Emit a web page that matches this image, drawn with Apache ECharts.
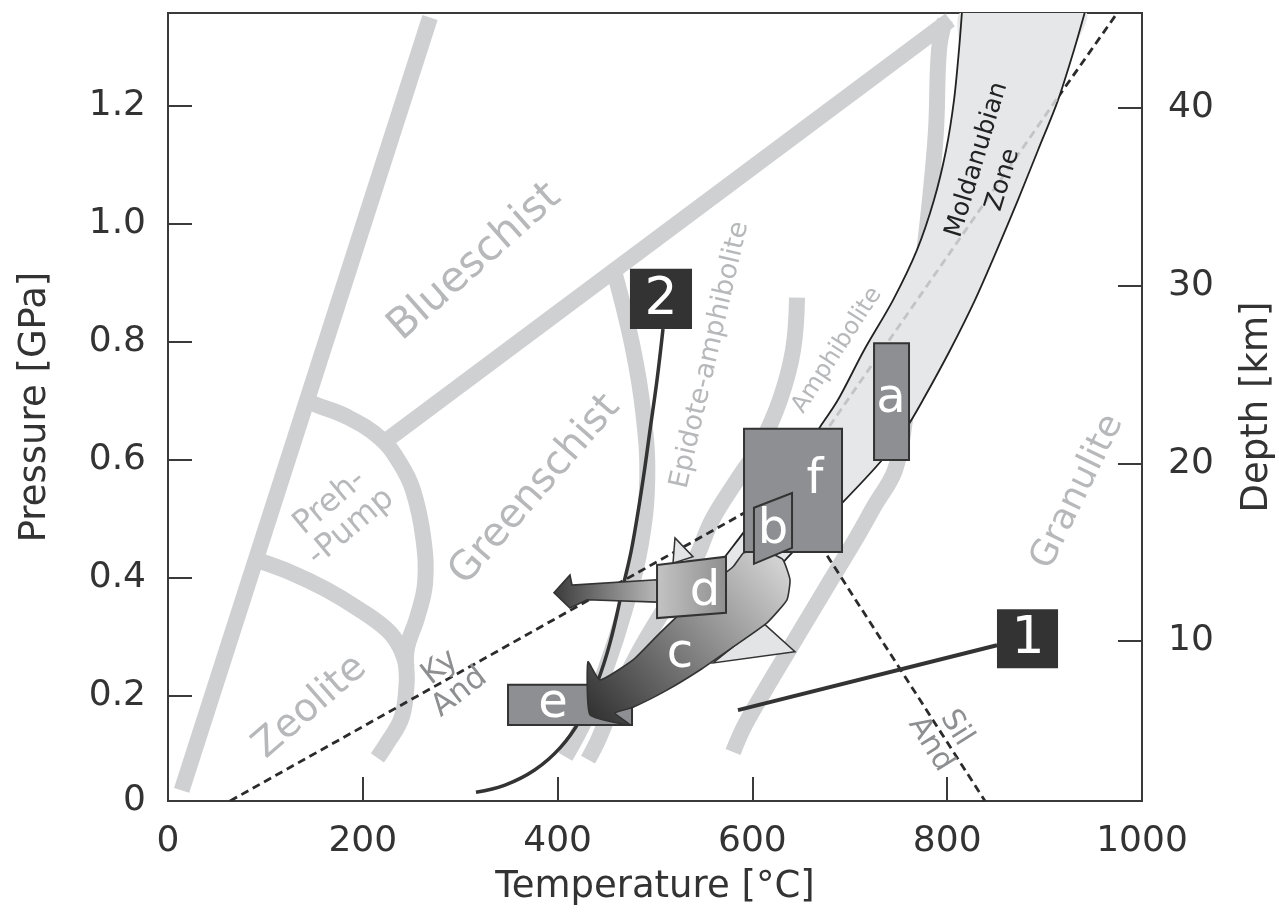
<!DOCTYPE html>
<html><head><meta charset="utf-8">
<script src="https://cdn.jsdelivr.net/npm/echarts@6/dist/echarts.min.js"></script>
<style>html,body{margin:0;padding:0;background:#fff}#c{width:1279px;height:916px}</style>
</head><body><div id="c"></div>
<script>
// ================= DATA (T in °C, P in GPa) =================
const P_MIN = 0.022, P_MAX = 1.3576;      // pressure range of frame
const D_MIN = 1.0, D_MAX = 45.34;         // depth range of frame (km)
const pTicks = [0.2, 0.4, 0.6, 0.8, 1.0, 1.2];
const depthTicks = [10, 20, 30, 40];

// facies boundary bands (light grey thick lines)
const bandZeoliteBlueschist = [[14,0.04],[269,1.35]];
const bandPrehPumpUpper = [[142,0.70],[153,0.693],[184,0.673],[218,0.637],[238,0.595],[251.5,0.549],[262,0.469],[264,0.392],[256,0.334],[245,0.278],[245,0.222],[240,0.164],[225,0.120],[215,0.095]];
const bandPrehPumpLower = [[90,0.431],[128,0.408],[163,0.380],[197,0.346],[225,0.312],[238,0.283],[245,0.249]];
const bandBlueschistGreenschist = [[225,0.634],[803,1.346]];
const bandGreenschistEpidote = [[459,0.914],[477,0.792],[488,0.680],[492,0.566],[485,0.453],[469,0.346],[449,0.244],[428,0.159],[408,0.097]];
const bandEpidoteAmphibolite = [[645.8,0.875],[641.7,0.786],[628.3,0.702],[607.8,0.625],[584.2,0.566],[558.5,0.498],[541.1,0.431],[515.4,0.363],[484.6,0.278],[458.9,0.193],[441.5,0.125],[431.2,0.092]];
const bandAmphiboliteGranulite = [[797.7,1.346],[791.6,1.295],[788.5,1.159],[782.3,1.041],[773.1,0.905],[763.9,0.769],[756.7,0.668],[746.4,0.583],[725.9,0.524],[705.3,0.464],[674.5,0.380],[643.7,0.295],[612.9,0.210],[592.4,0.151],[580.1,0.105]];

// Al2SiO5 reactions (dashed)
const kyAnd = [[63.7,0.022],[633.5,0.549]];
const silAnd = [[633.5,0.549],[838.8,0.022]];
const kySilInZone = [[633.5,0.549],[913.8,1.215]];
const kySilOutside = [[913.8,1.215],[974.3,1.357]];

// Moldanubian Zone band
const zoneLeft = [[815.2,1.36],[812.1,1.295],[807.0,1.210],[798.8,1.125],[786.5,1.041],[769.0,0.956],[744.4,0.871],[714.6,0.786],[687.9,0.702],[669.4,0.656],[638.6,0.583],[607.8,0.515],[590.4,0.476],[571.9,0.436],[546.2,0.380]];
const zoneRight = [[941.5,1.36],[930.2,1.295],[913.8,1.210],[893.2,1.125],[872.7,1.041],[851.1,0.956],[828.5,0.871],[802.9,0.786],[775.2,0.702],[758.7,0.656],[733.1,0.600],[692.0,0.527],[638.6,0.439],[607.8,0.380]];
const triTop = [[520.5,0.468],[539.0,0.436],[518.5,0.425]];
const triBottom = [[610.9,0.324],[643.7,0.275],[559.6,0.256]];

// geotherm / paths
const path1 = [[585.2,0.176],[851.1,0.286]];
const path2 = [[508.2,0.822],[502.1,0.736],[494.9,0.651],[487.7,0.566],[476.4,0.453],[467.1,0.385],[453.8,0.290],[440.5,0.222],[423.0,0.159],[402.5,0.112],[376.8,0.075],[346.0,0.049],[316.2,0.037]];

// P-T boxes [Tmin, Tmax, Pmin, Pmax]
const boxA = [724.9, 760.8, 0.600, 0.798];
const boxF = [591.4, 692.0, 0.444, 0.653];
const boxE = [349.1, 476.4, 0.151, 0.219];
const label1Box = [851.1, 913.8, 0.247, 0.347];
const label2Box = [474.3, 538.0, 0.822, 0.924];
const quadB = [[601.6,0.519],[640.7,0.544],[640.7,0.451],[601.6,0.424]];
const quadD = [[502.1,0.422],[572.9,0.436],[572.9,0.341],[502.1,0.332]];
const arrowD = [[502.1,0.397],[414.8,0.388],[412.7,0.405],[396.3,0.375],[412.7,0.349],[430.2,0.363],[502.1,0.359]];
const arrowC = [[594.5,0.444],[618.1,0.442],[631.4,0.431],[638.6,0.397],[635.5,0.363],[615.0,0.324],[580.1,0.283],[546.2,0.244],[512.3,0.210],[477.4,0.181],[458.9,0.171],[474.3,0.151],[433.3,0.168],[431.2,0.258],[443.5,0.227],[477.4,0.261],[505.1,0.307],[532.9,0.351],[559.6,0.392],[580.1,0.419],[590.4,0.442]];

// text labels: [text, T, P, rotation°, fontSize]
const faciesLabels = [
  ['Blueschist', 315, 0.935, 41.5, 42],
  ['Greenschist', 377, 0.549, 49, 40],
  ['Epidote-amphibolite', 556.5, 0.778, 77, 27],
  ['Amphibolite', 687, 0.786, 57, 24],
  ['Granulite', 934, 0.546, 64, 36],
  ['Preh-\n-Pump', 177, 0.507, 40, 32],
  ['Zeolite', 146, 0.181, 41, 39]
];
const mineralLabels = [
  ['Ky\nAnd', 289.5, 0.227, 38, 31],
  ['Sil\nAnd', 796, 0.132, -58, 30]
];
const zoneLabels = [['Moldanubian', 830.6, 1.109, 73, 25], ['Zone', 857.3, 1.075, 73, 25]];
const boxLetters = [['a',742.3,0.702,0,48],['b',621.2,0.481,0,48],['c',525.7,0.270,0,48],['d',551.3,0.375,0,48],['e',395.3,0.185,0,48],['f',664.3,0.566,0,48],['1',883,0.295,0,52],['2',506.2,0.871,0,52]];

// ================= CHART =================
const FONT = 'DejaVu Sans';
const chart = echarts.init(document.getElementById('c'), null, {renderer:'canvas'});
function shapeSeries(z, build) {
  return {type:'custom', z:z, silent:true, animation:false, clip:true,
    xAxisIndex:0, yAxisIndex:0, data:[[500,0.5]],
    renderItem:(params, api) => build(api)};
}
const C = (api, pts) => pts.map(p => api.coord(p));
function line(pts, style, z, smooth) {
  return shapeSeries(z, api => ({type:'polyline', shape:{points:C(api,pts), smooth:smooth||0},
    style:Object.assign({fill:null}, style)}));
}
function poly(pts, style, z, smooth) {
  return shapeSeries(z, api => ({type:'polygon', shape:{points:C(api,pts), smooth:smooth||0}, style:style}));
}
function rect(b) { return [[b[0],b[2]],[b[1],b[2]],[b[1],b[3]],[b[0],b[3]]]; }
function texts(items, z, color) {
  return shapeSeries(z, api => ({type:'group', children: items.map(it => {
    const p = api.coord([it[1], it[2]]);
    return {type:'text', x:p[0], y:p[1], rotation: it[3]*Math.PI/180,
      style:{text:it[0], fill:color, fontSize:it[4], fontFamily:FONT,
        align:'center', verticalAlign:'middle', lineHeight:it[4]*1.02}};
  })}));
}
const BAND = {stroke:'#cfd0d2', lineWidth:16, lineCap:'butt', lineJoin:'round'};
const DASH = {stroke:'#2b2b2b', lineWidth:2.8, lineDash:[8,5]};
const BOX = {fill:'#8e8f92', stroke:'#333', lineWidth:2};
const LG = echarts.graphic.LinearGradient;

const series = [
  line(bandZeoliteBlueschist, BAND, 1),
  line(bandPrehPumpUpper, BAND, 1, 0.4),
  line(bandPrehPumpLower, BAND, 1, 0.4),
  line(bandBlueschistGreenschist, BAND, 1),
  line(bandGreenschistEpidote, BAND, 1, 0.4),
  line(bandEpidoteAmphibolite, BAND, 1, 0.4),
  line(bandAmphiboliteGranulite, BAND, 1, 0.4),
  line(kyAnd, DASH, 2),
  line(silAnd, DASH, 2),
  line(kySilOutside, DASH, 2),
  poly(zoneLeft.concat(zoneRight.slice().reverse()), {fill:'#e6e7e8'}, 3, 0.3),
  line(zoneLeft, {stroke:'#222', lineWidth:1.8}, 3, 0.3),
  line(zoneRight, {stroke:'#222', lineWidth:1.8}, 3, 0.3),
  line(kySilInZone, {stroke:'#c3c4c6', lineWidth:2.8, lineDash:[8,5]}, 4),
  poly(triTop, {fill:'#e3e4e5', stroke:'#333', lineWidth:1.5}, 4),
  poly(triBottom, {fill:'#e3e4e5', stroke:'#333', lineWidth:1.5}, 4),
  line(path2, {stroke:'#333', lineWidth:3.5}, 5, 0.4),
  line(path1, {stroke:'#333', lineWidth:4}, 5),
  poly(rect(boxE), BOX, 6),
  poly(arrowC, {fill:new LG(0,1,1,0,[{offset:0,color:'#2c2c2c'},{offset:0.55,color:'#8d8d8d'},{offset:1,color:'#dcdcdc'}]), stroke:'#333', lineWidth:1.6}, 7, 0.15),
  poly(arrowD, {fill:new LG(0,0,1,0,[{offset:0,color:'#3a3a3a'},{offset:1,color:'#b9b9b9'}]), stroke:'#333', lineWidth:1.6}, 8),
  poly(quadD, {fill:new LG(0,0,1,0,[{offset:0,color:'#c4c4c4'},{offset:1,color:'#8e8e8e'}]), stroke:'#333', lineWidth:2}, 8),
  poly(rect(boxF), BOX, 9),
  poly(quadB, BOX, 10),
  poly(rect(boxA), BOX, 9),
  poly(rect(label1Box), {fill:'#333'}, 9),
  poly(rect(label2Box), {fill:'#333'}, 9),
  texts(faciesLabels, 11, '#b7b8ba'),
  texts(mineralLabels, 11, '#8e8f91'),
  texts(zoneLabels, 11, '#222'),
  texts(boxLetters, 12, '#ffffff')
];

const AX = {lineStyle:{color:'#3a3a3a', width:2}};
chart.setOption({
  animation:false,
  backgroundColor:'#fff',
  grid:{left:168, right:137, top:13, bottom:115, containLabel:false, outerBoundsMode:'none',
    show:true, borderColor:'#3a3a3a', borderWidth:2},
  xAxis:{type:'value', min:0, max:1000, interval:200,
    name:'Temperature [°C]', nameLocation:'middle', nameGap:68,
    nameTextStyle:{fontSize:37, fontFamily:FONT, color:'#333'},
    axisLine:AX, axisTick:{inside:true, length:24, lineStyle:{color:'#3a3a3a', width:2}},
    axisLabel:{fontSize:36, fontFamily:FONT, color:'#333', margin:23, formatter:v => String(v)},
    splitLine:{show:false}},
  yAxis:[
    {type:'value', min:P_MIN, max:P_MAX, position:'left',
      name:'Pressure [GPa]', nameLocation:'middle', nameGap:114, nameRotate:90,
      nameTextStyle:{fontSize:37, fontFamily:FONT, color:'#333'},
      axisLine:AX, axisTick:{inside:true, length:24, customValues:pTicks, lineStyle:{color:'#3a3a3a', width:2}},
      axisLabel:{fontSize:36, fontFamily:FONT, color:'#333', margin:22,
        customValues:[P_MIN].concat(pTicks),
        formatter:v => (Math.abs(v-P_MIN)<1e-6 ? '0' : v.toFixed(1))},
      splitLine:{show:false}},
    {type:'value', min:D_MIN, max:D_MAX, position:'right', alignTicks:false,
      name:'Depth [km]', nameLocation:'middle', nameGap:97, nameRotate:90,
      nameTextStyle:{fontSize:37, fontFamily:FONT, color:'#333'},
      axisLine:AX, axisTick:{inside:true, length:24, customValues:depthTicks, lineStyle:{color:'#3a3a3a', width:2}},
      axisLabel:{fontSize:36, fontFamily:FONT, color:'#333', margin:26, customValues:depthTicks},
      splitLine:{show:false}}
  ],
  series:series
});
</script></body></html>
